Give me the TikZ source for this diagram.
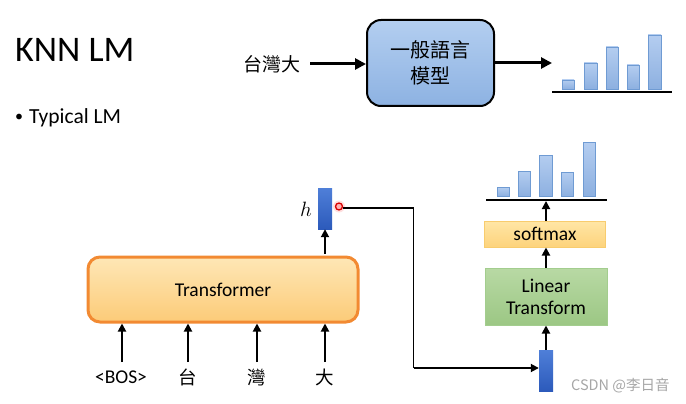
\documentclass[tikz,border=0pt]{standalone}
\usepackage{fontspec}
\setmainfont{Carlito}
\newfontfamily\cjk{Noto Sans CJK TC}
\newfontfamily\wmfont{Noto Sans CJK SC}
\usetikzlibrary{arrows.meta}
\definecolor{bartop}{HTML}{B4CDF0}
\definecolor{barbot}{HTML}{8DB0E0}
\definecolor{barline}{HTML}{6F9BD3}
\definecolor{lmtop}{HTML}{B3CEF0}
\definecolor{lmbot}{HTML}{8DB2E2}
\definecolor{tftop}{HTML}{FEE7B6}
\definecolor{tfbot}{HTML}{FCCB78}
\definecolor{tfline}{HTML}{F28A32}
\definecolor{lttop}{HTML}{B8D9A4}
\definecolor{ltbot}{HTML}{9CC784}
\definecolor{ltline}{HTML}{A3CD8E}
\definecolor{smtop}{HTML}{FFE6A6}
\definecolor{smbot}{HTML}{FDD37C}
\definecolor{smline}{HTML}{F8CC6E}
\definecolor{vectop}{HTML}{4F7FD8}
\definecolor{vecbot}{HTML}{2C5ABB}
\begin{document}
\begin{tikzpicture}[x=1pt,y=-1pt,
  arr/.style={-{Triangle[length=8pt,width=8pt]}, line width=1.8pt},
  bigarr/.style={-{Triangle[length=11pt,width=11pt]}, line width=3pt},
  bar/.style={draw=barline, top color=bartop, bottom color=barbot, line width=0.7pt},
  vecbox/.style={top color=vectop, bottom color=vecbot, draw=none, inner sep=0pt},
  lbl/.style={font=\fontsize{19.5}{22}\selectfont, inner sep=1pt},
  cjklbl/.style={font=\cjk\fontsize{18.5}{22}\selectfont, inner sep=1pt}
]
\useasboundingbox (0,0) rectangle (686,404);

% titles
\node[anchor=west, inner sep=0pt, font=\fontsize{36}{40}\selectfont] (title) at (15,50) {KNN LM};
\node[inner sep=0pt, font=\fontsize{16}{20}\selectfont] (bul) at (19,118) {•};
\node[anchor=west, inner sep=0pt, font=\fontsize{21.5}{25}\selectfont] (typ) at (29,118) {Typical LM};

% top general LM
\node[cjklbl, font=\cjk\fontsize{19}{22}\selectfont] (tw) at (272,64) {台灣大};
\node[draw=black, line width=2pt, rounded corners=14pt, top color=lmtop, bottom color=lmbot,
      minimum width=127pt, minimum height=86pt, align=center,
      font=\cjk\fontsize{20}{26}\selectfont] (lm) at (430.5,63) {一般語言\\模型};
\coordinate (chart1) at (552,63);
\draw[bigarr] (310,64) -- (lm.west |- 0,64);
\draw[bigarr] (lm.east |- 0,63) -- (chart1);
\draw[bar] (562,80) rectangle (574,89);
\draw[bar] (584,63) rectangle (597,89);
\draw[bar] (606,47) rectangle (618,89);
\draw[bar] (627,65) rectangle (639,89);
\draw[bar] (648,35) rectangle (661,89);
\draw[line width=2pt] (552,92.5) -- (672,92.5);

% transformer
\node[draw=tfline, line width=3pt, rounded corners=12pt, top color=tftop, bottom color=tfbot,
      minimum width=270pt, minimum height=65pt, font=\fontsize{19.5}{22}\selectfont] (tf) at (223,289.5) {Transformer};

\node[lbl] (in1) at (121,377) {<BOS>};
\node[cjklbl] (in2) at (188,377) {台};
\node[cjklbl] (in3) at (257,377) {灣};
\node[cjklbl] (in4) at (325,377) {大};
\foreach \n/\x in {in1/122,in2/188,in3/257,in4/325}{
  \draw[arr] (\x,362) -- (\x,323.5);
}

% h vector
\node[vecbox, minimum width=14pt, minimum height=41pt] (h) at (325,208.5) {};
\node[font=\fontsize{21}{22}\selectfont] (hl) at (306,209) {$h$};
\draw[arr] (tf.north -| h.south) ++(0,-1.5) -- (h.south);
\fill[red!20, opacity=0.6] (339,206.5) circle (6pt);
\node[circle, draw=red!85!black, fill=red!30, line width=1.3pt, minimum size=7pt, inner sep=0pt] (dot) at (339,206.5) {};

% second vector
\node[vecbox, minimum width=14pt, minimum height=41pt] (v2) at (546,370.5) {};
\coordinate (c1) at (413.5,208);
\coordinate (c2) at (413.5,368);
\draw[line width=1.8pt] (dot.east |- 0,208) -- (c1) -- (c2);
\draw[arr] (c2) -- (v2.west |- c2);

% linear transform & softmax
\node[draw=ltline, line width=1pt, top color=lttop, bottom color=ltbot,
      minimum width=122pt, minimum height=57pt, align=center,
      font=\fontsize{19.5}{22}\selectfont] (lt) at (546,296.5) {Linear\\Transform};
\node[draw=smline, line width=1pt, top color=smtop, bottom color=smbot,
      minimum width=121pt, minimum height=26pt,
      font=\fontsize{19.5}{22}\selectfont] (sm) at (545,234) {softmax};
\coordinate (chart2) at (546,200);
\draw[arr] (v2.north) -- (lt.south);
\draw[arr] (lt.north) -- (sm.south -| lt.north);
\draw[arr] (sm.north -| lt.north) -- ([yshift=-1pt]chart2);
\draw[bar] (497,187) rectangle (509,196);
\draw[bar] (518,171) rectangle (530,196);
\draw[bar] (539,155) rectangle (552,196);
\draw[bar] (561,172) rectangle (573,196);
\draw[bar] (583,142) rectangle (595,196);
\draw[line width=2pt] (486,200) -- (607,200);

% watermark
\node[anchor=west, inner sep=0pt, text=black!35, font=\wmfont\fontsize{14.5}{16}\selectfont] (wm) at (571,386) {CSDN @李日音};
\end{tikzpicture}
\end{document}
